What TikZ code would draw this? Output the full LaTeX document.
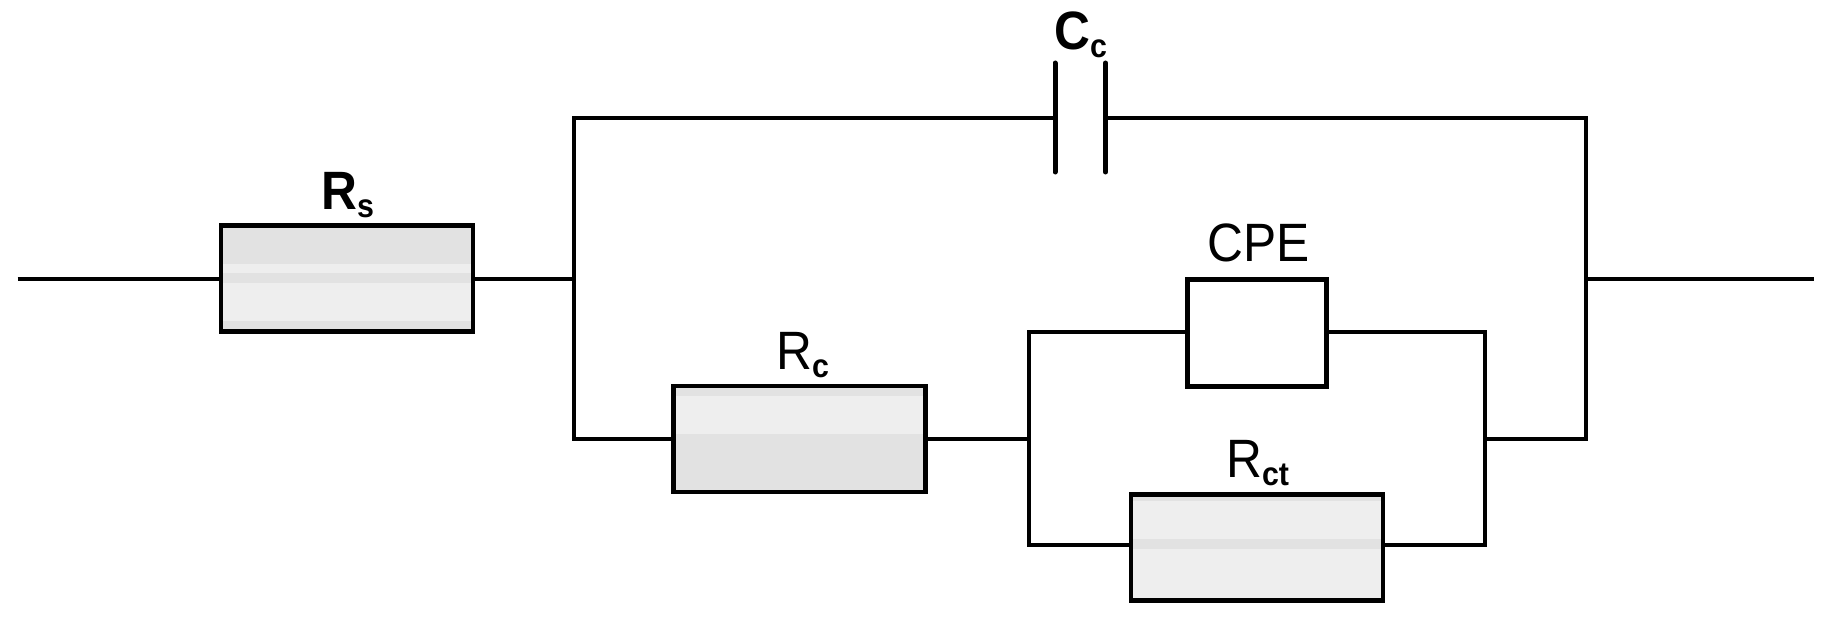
\documentclass[tikz,border=0pt]{standalone}
\usepackage{fontspec}
\setmainfont{Liberation Sans}
\newfontfamily\etroite[FakeStretch=0.92]{Liberation Sans}
\usetikzlibrary{calc}
\definecolor{clair}{HTML}{EEEEEE}
\definecolor{fonce}{HTML}{E2E2E2}
\newcommand{\indice}[1]{\raisebox{-8pt}{\fontsize{33}{33}\selectfont\bfseries #1}}
\newcommand{\bande}[2]{\fill[fonce] ($(path picture bounding box.north west)!#1!(path picture bounding box.south west)$) rectangle ($(path picture bounding box.north east)!#2!(path picture bounding box.south east)$);}
\begin{document}
\begin{tikzpicture}[x=1pt, y=-1pt]
	\tikzset{resist/.style={rectangle, draw=black, fill=clair, line width=4.4pt, inner sep=0pt, outer sep=0pt, minimum width=252pt, minimum height=106pt}, boite/.style={resist, fill=white, minimum width=139pt, minimum height=107pt}, fil/.style={line width=4pt}, plaque/.style={line width=5pt, line cap=round}, legende/.style={anchor=base west, inner sep=0pt, font=\etroite\fontsize{54}{60}\selectfont}};
	\useasboundingbox (0,0) rectangle (1825,618);

	\node[resist, path picture={\bande{0}{0.365}\bande{0.45}{0.545}\bande{0.90}{1}}] (rs) at (347,278.5) {};
	\node[resist, path picture={\bande{0}{0.09}\bande{0.45}{1}}] (rc) at (799.5,439) {};
	\node[resist, path picture={\bande{0}{0.06}\bande{0.416}{0.51}\bande{0.98}{1}}] (rct) at (1257,547.5) {};
	\node[boite] (cpe) at (1257,333) {};

	\coordinate (e) at (17.5,278.5);
	\coordinate (s) at (1814,278.5);
	\coordinate (n1) at (574,278.5);
	\coordinate (n2) at (1586,278.5);
	\coordinate (n3) at (1029,439);
	\coordinate (n4) at (1485,439);
	\coordinate (n3h) at (1029,332);
	\coordinate (n4h) at (1485,332);
	\coordinate (n3b) at (1029,545);
	\coordinate (n4b) at (1485,545);
	\coordinate (c1) at (1055,117.5);
	\coordinate (c2) at (1105.5,117.5);
	\coordinate (c1h) at (1055,63);
	\coordinate (c1b) at (1055,172);
	\coordinate (c2h) at (1105.5,63);
	\coordinate (c2b) at (1105.5,172);

	\draw[fil] (e) -- (rs);
	\draw[fil] (rs) -- (n1);
	\draw[fil] (n2) -- (s);
	\draw[fil] (n1) |- (c1);
	\draw[fil] (c2) -| (n2);
	\draw[fil] (n1) |- (rc);
	\draw[fil] (n2) |- (n4);
	\draw[fil] (rc) -- (n3);
	\draw[fil] (n3) -- (n3h) -- (n3h -| cpe.west);
	\draw[fil] (n3) -- (n3b) -- (n3b -| rct.west);
	\draw[fil] (n4) -- (n4h) -- (n4h -| cpe.east);
	\draw[fil] (n4) -- (n4b) -- (n4b -| rct.east);
	\draw[plaque] (c1h) -- (c1b);
	\draw[plaque] (c2h) -- (c2b);

	\node[legende] (lrs) at (321,209.5) {\bfseries R\indice{s}};
	\node[legende] (lcc) at (1054,49) {\bfseries C\indice{c}};
	\node[legende] (lcpe) at (1207,261) {CPE};
	\node[legende] (lrc) at (776,369) {R\indice{c}};
	\node[legende] (lrct) at (1226,477) {R\indice{ct}};
\end{tikzpicture}
\end{document}
